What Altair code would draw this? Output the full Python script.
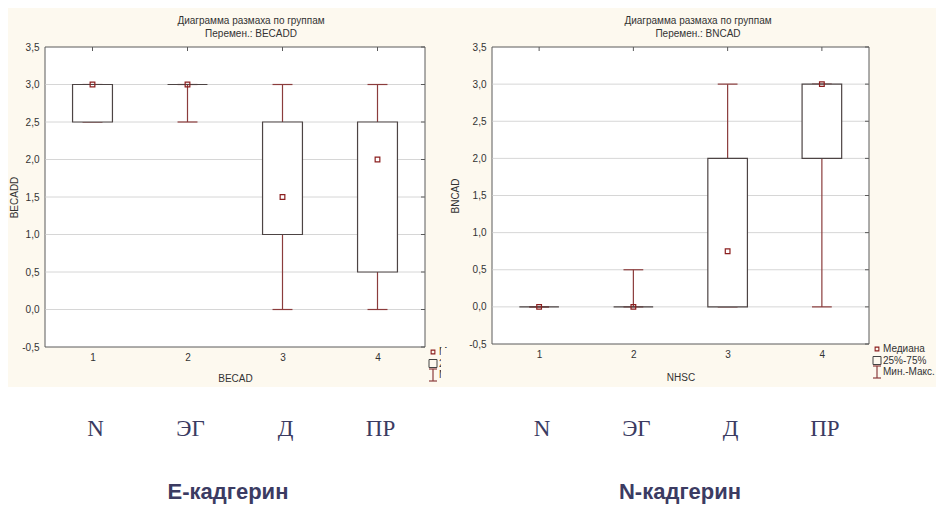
import altair as alt
import pandas as pd

# ---------------- data ----------------
groups = [1, 2, 3, 4]
group_labels = ["N", "ЭГ", "Д", "ПР"]

# E-кадгерин (BECADD)
e_min = [2.5, 2.5, 0.0, 0.0]
e_q1 = [2.5, 3.0, 1.0, 0.5]
e_med = [3.0, 3.0, 1.5, 2.0]
e_q3 = [3.0, 3.0, 2.5, 2.5]
e_max = [3.0, 3.0, 3.0, 3.0]

# N-кадгерин (BNCAD)
n_min = [0.0, 0.0, 0.0, 0.0]
n_q1 = [0.0, 0.0, 0.0, 2.0]
n_med = [0.0, 0.0, 0.75, 3.0]
n_q3 = [0.0, 0.0, 2.0, 3.0]
n_max = [0.0, 0.5, 3.0, 3.0]

y_ticks = [-0.5, 0.0, 0.5, 1.0, 1.5, 2.0, 2.5, 3.0, 3.5]
y_tick_labels = ["-0,5", "0,0", "0,5", "1,0", "1,5", "2,0", "2,5", "3,0", "3,5"]
title_line1 = "Диаграмма размаха по группам"
legend_labels = ["Медиана", "25%-75%", "Мин.-Макс."]

# ---------------- style ----------------
cream = "#fdf9ef"
navy = "#3b3b62"
txt = "#333333"
box_c = "#4d4444"
wh_c = "#8b3c3c"
med_c = "#8b1f1f"
frame_c = "#5a5a5a"
grid_c = "#d6d6d6"
FONT = "Liberation Sans"

label_expr = "[" + ",".join("'%s'" % s for s in y_tick_labels) + "][indexof([" + \
    ",".join(str(v) for v in y_ticks) + "], datum.value)]"


def one(**kw):
    return pd.DataFrame({k: [v] for k, v in kw.items()})


def panel(mins, q1s, meds, q3s, maxs, ytitle, xtitle, W, H, ytx, xty,
          var_line, bottom_title, bottom_x, leg_x, leg_y, left=False, cover=False,
          leg_limit=None):
    df = pd.DataFrame({"g": groups, "lbl": group_labels, "lo": mins,
                       "q1": q1s, "med": meds, "q3": q3s, "hi": maxs})
    xs = alt.Scale(domain=[0.5, 4.5], nice=False, zero=False)
    ys = alt.Scale(domain=[-0.5, 3.5], nice=False, zero=False)
    xaxis = alt.Axis(values=groups, format="d", grid=False, domain=False, ticks=False,
                     labelPadding=5, labelFontSize=10, labelColor=txt, labelFont=FONT,
                     title=xtitle, titleFontSize=10, titleFontWeight="normal",
                     titleColor=txt, titleFont=FONT, titleX=W / 2, titleY=xty,
                     titleBaseline="alphabetic", titleAlign="center", zindex=1)
    yaxis = alt.Axis(values=y_ticks, labelExpr=label_expr, grid=False, domain=False,
                     ticks=False, labelPadding=6,
                     labelFontSize=10, labelColor=txt, labelFont=FONT,
                     title=ytitle, titleFontSize=10, titleFontWeight="normal",
                     titleColor=txt, titleFont=FONT, titleX=ytx, titleY=H / 2,
                     titleAngle=270, titleAlign="center", titleBaseline="middle", zindex=1)
    X = alt.X("g:Q", scale=xs, axis=xaxis)
    base = alt.Chart(df)
    layers = []
    if left:
        # cream picture area and an invisible bottom marker for the page extent
        layers.append(alt.Chart(one(a=0)).mark_rect(fill=cream, strokeWidth=0).encode(
            x=alt.value(-37), x2=alt.value(891), y=alt.value(-39), y2=alt.value(340)))
        layers.append(alt.Chart(one(a=0)).mark_rect(fill="white", strokeWidth=0).encode(
            x=alt.value(-37), x2=alt.value(891), y=alt.value(463), y2=alt.value(465)))
    # plot frame with white fill
    layers.append(alt.Chart(one(a=0)).mark_rect(fill="white", stroke=frame_c, strokeWidth=1).encode(
        x=alt.value(0), x2=alt.value(W), y=alt.value(0), y2=alt.value(H)))
    # gridlines
    gdf = pd.DataFrame({"v": y_ticks[1:-1]})
    layers.append(alt.Chart(gdf).mark_rule(color=grid_c, strokeWidth=1).encode(
        y=alt.Y("v:Q", scale=ys, axis=yaxis), x=alt.value(0.5), x2=alt.value(W - 0.5)))
    # whiskers
    layers.append(base.mark_rule(color=wh_c, strokeWidth=1.2).encode(
        x=X, y=alt.Y("lo:Q", scale=ys, axis=yaxis), y2="hi:Q"))
    # caps
    caps = base.transform_calculate(xa="datum.g - 0.105", xb="datum.g + 0.105")
    for fld in ["lo", "hi"]:
        layers.append(caps.mark_rule(color=wh_c, strokeWidth=1.2).encode(
            x=alt.X("xa:Q", scale=xs, axis=xaxis), x2="xb:Q",
            y=alt.Y(fld + ":Q", scale=ys, axis=yaxis)))
    # boxes
    layers.append(base.transform_calculate(ba="datum.g - 0.21", bb="datum.g + 0.21")
                  .mark_rect(fill="white", stroke=box_c, strokeWidth=1.2).encode(
        x=alt.X("ba:Q", scale=xs, axis=xaxis), x2="bb:Q",
        y=alt.Y("q1:Q", scale=ys, axis=yaxis), y2="q3:Q"))
    # medians
    layers.append(base.mark_point(shape="square", size=22, filled=False, color=med_c,
                                  strokeWidth=1.2, opacity=1).encode(
        x=X, y=alt.Y("med:Q", scale=ys, axis=yaxis)))
    # frame ticks (top, pointing inward)
    layers.append(base.mark_rule(color=frame_c).encode(
        x=X, y=alt.value(0), y2=alt.value(4)))
    # frame ticks (right, pointing inward)
    tdf = pd.DataFrame({"v": y_ticks})
    layers.append(alt.Chart(tdf).mark_rule(color=frame_c).encode(
        y=alt.Y("v:Q", scale=ys, axis=yaxis), x=alt.value(W - 4), x2=alt.value(W)))
    # title lines
    layers.append(alt.Chart(one(t=title_line1)).mark_text(
        font=FONT, fontSize=10, color=txt, baseline="alphabetic", align="center").encode(
        text="t:N", x=alt.value(206), y=alt.value(-23)))
    layers.append(alt.Chart(one(t="Перемен.: " + var_line)).mark_text(
        font=FONT, fontSize=10, color=txt, baseline="alphabetic", align="center").encode(
        text="t:N", x=alt.value(206), y=alt.value(-10.5)))
    # legend
    r0, r1, r2 = leg_y, leg_y + 11.5, leg_y + 23
    layers.append(alt.Chart(one(a=0)).mark_point(shape="square", size=14, filled=False,
                                                 color=med_c, strokeWidth=1.1, opacity=1).encode(
        x=alt.value(leg_x), y=alt.value(r0)))
    layers.append(alt.Chart(one(a=0)).mark_point(shape="square", size=64, filled=False,
                                                 color="#444444", strokeWidth=1, opacity=1).encode(
        x=alt.value(leg_x), y=alt.value(r1)))
    layers.append(alt.Chart(one(a=0)).mark_rule(color=wh_c, strokeWidth=1.2).encode(
        x=alt.value(leg_x), y=alt.value(r2 - 6), y2=alt.value(r2 + 6)))
    for yy in (r2 - 6, r2 + 6):
        layers.append(alt.Chart(one(a=0)).mark_rule(color=wh_c, strokeWidth=1.2).encode(
            x=alt.value(leg_x - 4), x2=alt.value(leg_x + 4), y=alt.value(yy)))
    text_kw = dict(font=FONT, fontSize=10, color=txt, baseline="middle", align="left")
    if leg_limit is not None:
        text_kw.update(limit=leg_limit, ellipsis=" ")
    for lab, yy in zip(legend_labels, (r0, r1, r2)):
        layers.append(alt.Chart(one(t=lab)).mark_text(**text_kw).encode(
            text="t:N", x=alt.value(leg_x + 6), y=alt.value(yy)))
    if cover:
        # the right picture overlaps the left picture's legend
        layers.append(alt.Chart(one(a=0)).mark_rect(fill=cream, strokeWidth=0).encode(
            x=alt.value(-51), x2=alt.value(-25), y=alt.value(301), y2=alt.value(340)))
    # group names under the picture
    layers.append(base.mark_text(font="Liberation Serif", fontSize=23, color=navy,
                                 baseline="alphabetic", align="center", dx=3).encode(
        x=X, text="lbl:N", y=alt.value(389)))
    layers.append(alt.Chart(one(t=bottom_title)).mark_text(
        font=FONT, fontSize=22, fontWeight="bold", color=navy,
        baseline="alphabetic", align="center").encode(
        text="t:N", x=alt.value(bottom_x), y=alt.value(452)))
    return alt.layer(*layers).properties(width=W, height=H)


left = panel(e_min, e_q1, e_med, e_q3, e_max, "BECADD", "BECAD", 380, 300, -31, 34,
             "BECADD", "E-кадгерин", 183, 388, 305, left=True, leg_limit=12)
right = panel(n_min, n_q1, n_med, n_q3, n_max, "BNCAD", "NHSC", 377, 297, -37, 36,
              "BNCAD", "N-кадгерин", 188, 385, 302, cover=True)

chart = alt.hconcat(left, right, spacing=67, bounds="flush").properties(
    padding=0, background="white"
).configure_view(strokeWidth=0, fill="white")

chart.save("out.html", embed_options={"renderer": "svg", "actions": False})
